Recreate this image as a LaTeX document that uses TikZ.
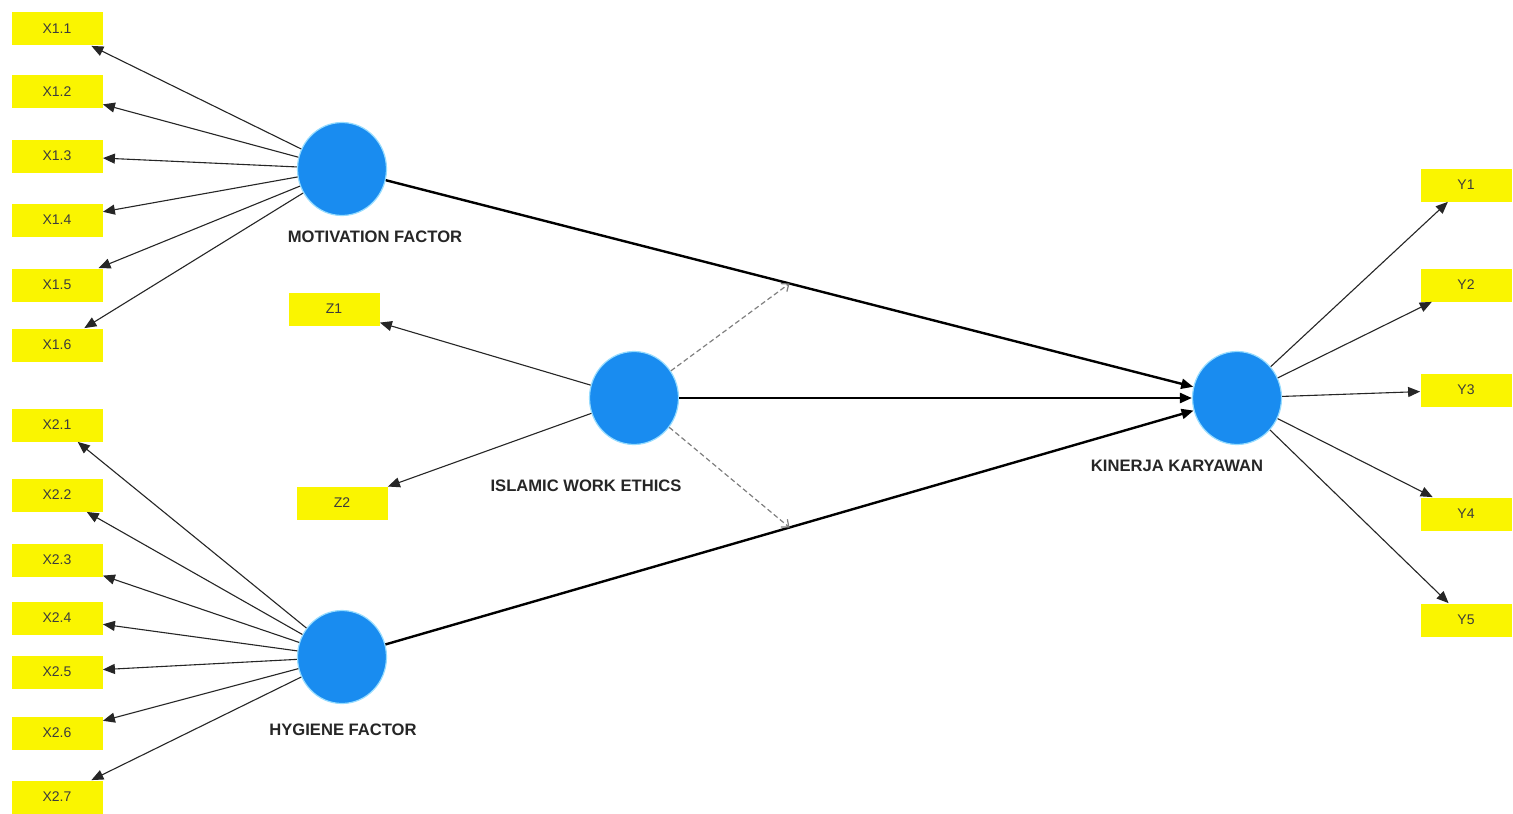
\documentclass[tikz,border=0pt]{standalone}
\usepackage{fontspec}
\setmainfont{Liberation Sans}
\usetikzlibrary{arrows.meta,shapes.geometric,calc}
\definecolor{boxyellow}{RGB}{250,245,0}
\definecolor{lvblue}{RGB}{25,140,240}
\definecolor{glow}{RGB}{150,220,255}
\definecolor{txtgray}{RGB}{60,60,60}
\tikzset{
  ind/.style={rectangle, fill=boxyellow, minimum width=45.5pt, minimum height=16.5pt, inner sep=0pt, font=\fontsize{7}{8}\selectfont, text=txtgray},
  latent/.style={ellipse, fill=lvblue, draw=glow, line width=0.6pt, minimum width=44.5pt, minimum height=46.5pt, inner sep=0pt},
  lvlabel/.style={font=\bfseries\fontsize{8.3}{9}\selectfont, text=black!85, inner sep=0pt},
  load/.style={draw=black!85, line width=0.55pt, -{Triangle[length=6pt,width=5pt]}},
  path/.style={draw=black, line width=1.2pt, -{Triangle[length=6pt,width=5pt]}},
  mod/.style={draw=gray, line width=0.6pt, dashed, dash pattern=on 2.5pt off 1.5pt, -{Straight Barb[length=3pt,width=5pt]}}
}
\begin{document}
\begin{tikzpicture}[x=0.5pt,y=-0.5pt]
\useasboundingbox[fill=white] (0,0) rectangle (1513,813);
% indicators
\node[ind] (x11) at (57,29) {X1.1};
\node[ind] (x12) at (57,92) {X1.2};
\node[ind] (x13) at (57,156) {X1.3};
\node[ind] (x14) at (57,220) {X1.4};
\node[ind] (x15) at (57,285) {X1.5};
\node[ind] (x16) at (57,345) {X1.6};
\node[ind] (x21) at (57,425) {X2.1};
\node[ind] (x22) at (57,495) {X2.2};
\node[ind] (x23) at (57,560) {X2.3};
\node[ind] (x24) at (57,618) {X2.4};
\node[ind] (x25) at (57,672) {X2.5};
\node[ind] (x26) at (57,733) {X2.6};
\node[ind] (x27) at (57,797) {X2.7};
\node[ind] (z1) at (334,309) {Z1};
\node[ind] (z2) at (342,503) {Z2};
\node[ind] (y1) at (1466,185) {Y1};
\node[ind] (y2) at (1466,285) {Y2};
\node[ind] (y3) at (1466,390) {Y3};
\node[ind] (y4) at (1466,514) {Y4};
\node[ind] (y5) at (1466,620) {Y5};
% latent variables
\node[latent] (mot) at (342,169) {};
\node[latent] (hyg) at (342,657) {};
\node[latent] (iwe) at (634,398) {};
\node[latent] (kin) at (1237,398) {};
\node[lvlabel] (lmot) at (375,237) {MOTIVATION FACTOR};
\node[lvlabel] (lhyg) at (343,730) {HYGIENE FACTOR};
\node[lvlabel] (liwe) at (586,486) {ISLAMIC WORK ETHICS};
\node[lvlabel] (lkin) at (1177,466) {KINERJA KARYAWAN};
% moderation points
\coordinate (m1) at ($(mot)!0.5!(kin)$);
\coordinate (m2) at ($(hyg)!0.5!(kin)$);
% loadings
\foreach \t in {x11,x12,x13,x14,x15,x16} \draw[load] (mot) -- (\t);
\foreach \t in {x21,x22,x23,x24,x25,x26,x27} \draw[load] (hyg) -- (\t);
\foreach \t in {z1,z2} \draw[load] (iwe) -- (\t);
\foreach \t in {y1,y2,y3,y4,y5} \draw[load] (kin) -- (\t);
% structural paths
\draw[path] (mot) -- (kin);
\draw[path] (iwe) -- (kin);
\draw[path] (hyg) -- (kin);
\draw[mod] (iwe) -- (m1);
\draw[mod] (iwe) -- (m2);
\end{tikzpicture}
\end{document}
